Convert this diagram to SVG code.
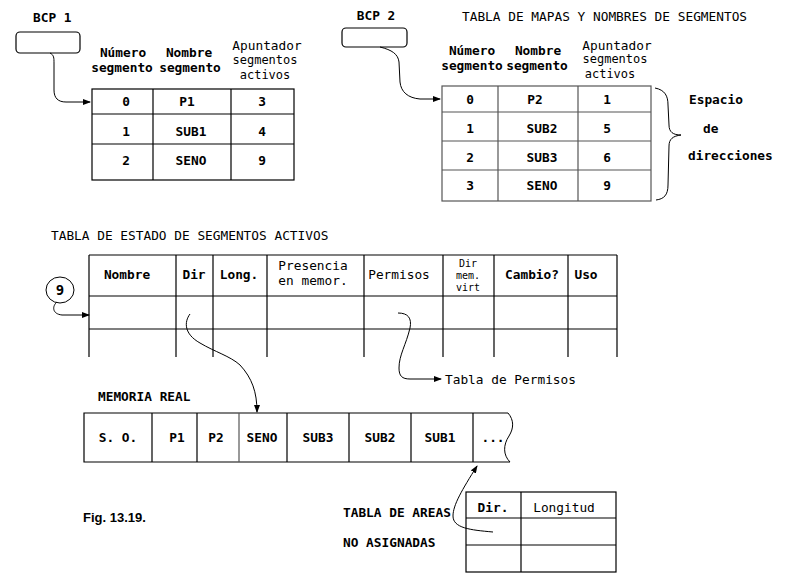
<svg xmlns="http://www.w3.org/2000/svg" width="796" height="587" viewBox="0 0 796 587">
<style>
.t{font-family:"DejaVu Sans Mono","Liberation Mono",monospace;font-size:12.8px;fill:#000}
.b{font-weight:bold}
.m{text-anchor:middle}
.s{font-size:10px}
.ln{fill:none;stroke:#000;stroke-width:1.2}
.gr{fill:none;stroke:#555;stroke-width:1.2}
.cn{fill:none;stroke:#000;stroke-width:1}
</style>
<defs>
<marker id="ah" markerWidth="8" markerHeight="6" refX="7" refY="3" orient="auto" markerUnits="userSpaceOnUse">
<path d="M0,0 L8,3 L0,6 z" fill="#000"/>
</marker>
</defs>
<rect width="796" height="587" fill="#fff"/>

<g id="bcp1">
<text class="t b" x="33" y="22">BCP 1</text>
<rect class="ln" x="16" y="32" width="64" height="21" rx="4"/>
</g>

<g id="bcp2">
<text class="t b" x="376" y="20" text-anchor="middle">BCP 2</text>
<rect class="ln" x="342" y="28" width="65" height="19" rx="4"/>
</g>

<g id="tabla1">
<text class="t b m" x="123" y="57">Número</text>
<text class="t b m" x="122" y="72">segmento</text>
<text class="t b m" x="189" y="57">Nombre</text>
<text class="t b m" x="190" y="72">segmento</text>
<text class="t m" x="267" y="50">Apuntador</text>
<text class="t m" x="265" y="64" style="font-size:12px">segmentos</text>
<text class="t m" x="265" y="79" style="font-size:12px">activos</text>
<rect class="ln" x="92" y="89" width="202" height="91"/>
<path class="ln" d="M153,89 V180 M231,89 V180 M92,114 H294 M92,144 H294"/>
<text class="t b m" x="126" y="106">0</text>
<text class="t b m" x="187" y="106">P1</text>
<text class="t b m" x="262" y="106">3</text>
<text class="t b m" x="126" y="136">1</text>
<text class="t b m" x="191" y="136">SUB1</text>
<text class="t b m" x="262" y="136">4</text>
<text class="t b m" x="126" y="165">2</text>
<text class="t b m" x="191" y="165">SENO</text>
<text class="t b m" x="262" y="165">9</text>
</g>

<g id="tabla2">
<text class="t" x="462" y="21">TABLA DE MAPAS Y NOMBRES DE SEGMENTOS</text>
<text class="t b m" x="472" y="55">Número</text>
<text class="t b m" x="472" y="70">segmento</text>
<text class="t b m" x="538" y="55">Nombre</text>
<text class="t b m" x="537" y="70">segmento</text>
<text class="t m" x="617" y="50">Apuntador</text>
<text class="t m" x="615" y="63" style="font-size:12px">segmentos</text>
<text class="t m" x="610" y="78" style="font-size:12px">activos</text>
<rect class="gr" x="442" y="86" width="209" height="115"/>
<path class="gr" d="M498,86 V201 M578,86 V201 M442,112 H651 M442,141 H651 M442,170 H651"/>
<text class="t b m" x="470" y="104">0</text>
<text class="t b m" x="535" y="104">P2</text>
<text class="t b m" x="607" y="104">1</text>
<text class="t b m" x="470" y="133">1</text>
<text class="t b m" x="542" y="133">SUB2</text>
<text class="t b m" x="607" y="133">5</text>
<text class="t b m" x="470" y="162">2</text>
<text class="t b m" x="542" y="162">SUB3</text>
<text class="t b m" x="607" y="162">6</text>
<text class="t b m" x="470" y="190">3</text>
<text class="t b m" x="542" y="190">SENO</text>
<text class="t b m" x="607" y="190">9</text>
</g>

<g id="espacio">
<path class="cn" d="M655,88 C665,90 668,96 668,105 L669,125 C669,132 673,135 681,135 C673,136 669,139 669,146 L668,185 C668,195 664,199 656,200"/>
<text class="t b" x="689" y="104">Espacio</text>
<text class="t b" x="703" y="133">de</text>
<text class="t b" x="688" y="160">direcciones</text>
</g>

<g id="tabla-activos">
<text class="t" x="51" y="240">TABLA DE ESTADO DE SEGMENTOS ACTIVOS</text>
<path class="ln" d="M89,255 H617 M89,296 H617 M89,329 H617 M89,255 V357 M176,255 V357 M213,255 V357 M267,255 V357 M364,255 V357 M443,255 V357 M494,255 V357 M568,255 V357 M617,255 V357"/>
<text class="t b m" x="127" y="279">Nombre</text>
<text class="t b m" x="194" y="279">Dir</text>
<text class="t b m" x="239" y="279">Long.</text>
<text class="t m" x="313" y="270">Presencia</text>
<text class="t m" x="313" y="285">en memor.</text>
<text class="t m" x="399" y="279">Permisos</text>
<text class="t s m" x="468" y="267">Dir</text>
<text class="t s m" x="468" y="279">mem.</text>
<text class="t s m" x="468" y="291">virt</text>
<text class="t b m" x="532" y="279">Cambio?</text>
<text class="t b m" x="586" y="279">Uso</text>
</g>

<g id="puntero9">
<ellipse class="cn" cx="60" cy="290" rx="14" ry="13"/>
<text class="t b m" x="60" y="295" style="font-size:14px">9</text>
</g>

<g id="permisos">
<text class="t" x="445" y="384">Tabla de Permisos</text>
</g>

<g id="memoria">
<text class="t b" x="98" y="401">MEMORIA REAL</text>
<path class="ln" d="M508,413 H84 V462 H510 M152,413 V462 M197,413 V462 M287,413 V462 M349,413 V462 M411,413 V462 M473,413 V462"/>
<path class="gr" d="M239,413 V462"/>
<path class="cn" d="M508,413 C514,420 514,428 509,436 C503,445 503,455 510,462"/>
<text class="t b m" x="118" y="442">S. O.</text>
<text class="t b m" x="177" y="442">P1</text>
<text class="t b m" x="216" y="442">P2</text>
<text class="t b m" x="262" y="442">SENO</text>
<text class="t b m" x="318" y="442">SUB3</text>
<text class="t b m" x="380" y="442">SUB2</text>
<text class="t b m" x="440" y="442">SUB1</text>
<text class="t b m" x="493" y="442">...</text>
</g>

<g id="areas">
<text class="t b" x="343" y="517">TABLA DE AREAS</text>
<text class="t b" x="343" y="547">NO ASIGNADAS</text>
<rect class="ln" x="466" y="492" width="150" height="80"/>
<path class="ln" d="M521,492 V572 M466,518 H616 M466,545 H616"/>
<text class="t b m" x="493" y="512">Dir.</text>
<text class="t m" x="564" y="512">Longitud</text>
</g>

<g id="fig">
<text x="83" y="522" style="font-family:'Liberation Sans',Arial,sans-serif;font-size:13px;font-weight:bold">Fig. 13.19.</text>
</g>

<g id="connectors">
<path class="cn" d="M50,53 C54,55 54,58 54,63 L54,90 C54,98 58,102 66,102 L90,102" marker-end="url(#ah)"/>
<path class="cn" d="M380,47 C392,50 398,54 399,62 L400,82 C401,92 408,98 420,99 L440,99" marker-end="url(#ah)"/>
<path class="cn" d="M57,302 C52,306 52,314 62,315 L89,315" marker-end="url(#ah)"/>
<path class="cn" d="M190,314 C184,322 184,334 200,343 C215,352 230,356 240,365 C252,378 257,392 257,412" marker-end="url(#ah)"/>
<path class="cn" d="M398,313 C408,313 412,318 410,328 C406,345 399,355 399,368 C399,376 402,379 410,379 L441,379" marker-end="url(#ah)"/>
<path class="cn" d="M493,532 C470,530 453,528 453,516 C453,505 462,490 477,466" marker-end="url(#ah)"/>
</g>
</svg>
